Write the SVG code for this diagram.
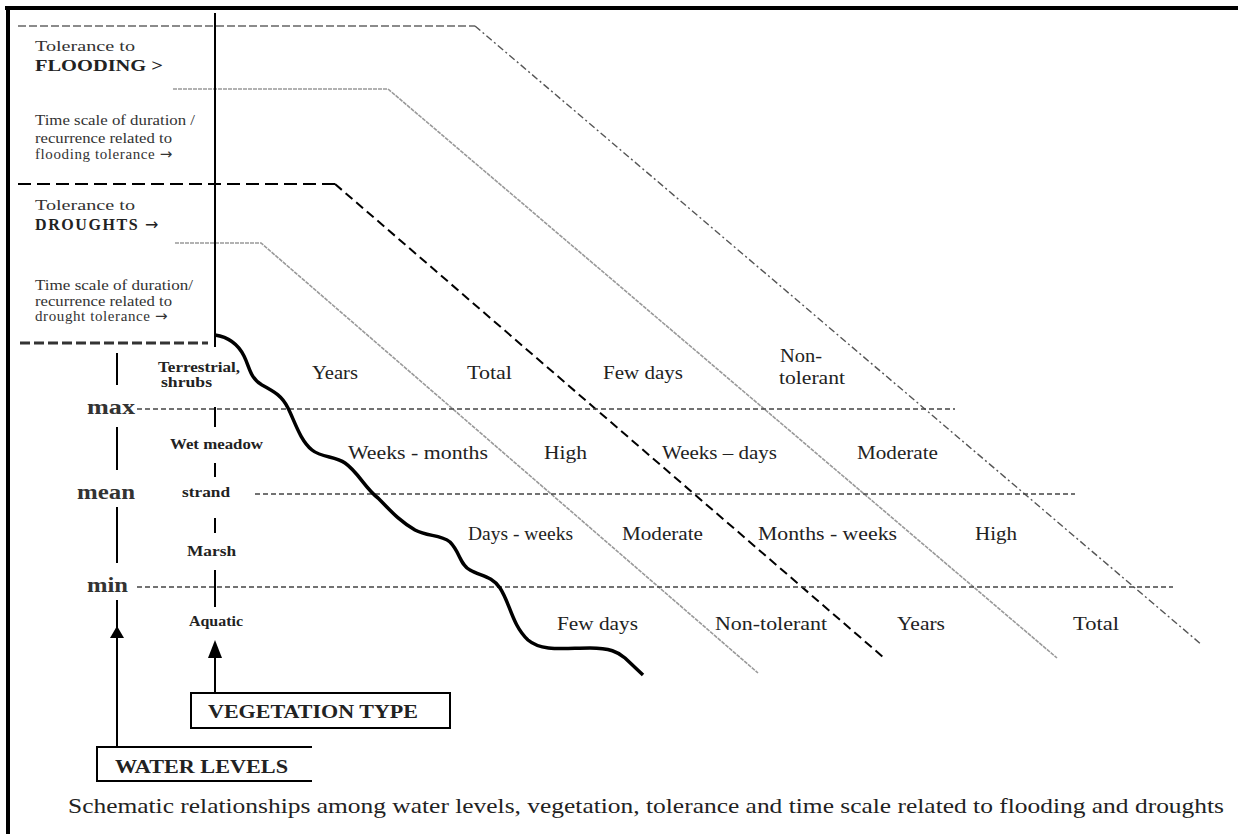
<svg xmlns="http://www.w3.org/2000/svg" width="1238" height="834" viewBox="0 0 1238 834">
<style>
text{font-family:"Liberation Serif","Times New Roman",serif;fill:#222}
.side{font-size:15px;fill:#333}
.sideb{font-size:16px;font-weight:bold;fill:#222}
.arr{font-family:"DejaVu Sans",sans-serif;font-weight:normal}
.cell{font-size:19px}
.veg{font-size:15px;font-weight:bold;fill:#222}
.lvl{font-size:20px;font-weight:bold;fill:#333}
.box{font-size:18px;font-weight:bold}
.cap{font-size:21px}
.solid{stroke:#000;stroke-width:2;fill:none}
.lvline{stroke:#444;stroke-width:1.6;stroke-dasharray:5 3;fill:none}
</style>
<rect width="1238" height="834" fill="#fff"/>
<g id="frame">
<line x1="5" y1="8" x2="1238" y2="8" stroke="#000" stroke-width="4"/>
<line x1="8" y1="6" x2="8" y2="834" stroke="#000" stroke-width="4"/>
</g>
<g id="connectors">
<polyline points="18,26 475,26" fill="none" stroke="#666" stroke-width="1.4" stroke-dasharray="8 3"/>
<line x1="475" y1="26" x2="1202" y2="645" stroke="#555" stroke-width="1.4" stroke-dasharray="7 3 2 3"/>
<polyline points="173,89 388,89 1057,658" fill="none" stroke="#999" stroke-width="1.6" stroke-dasharray="4 1"/>
<polyline points="18,184 335,184" fill="none" stroke="#000" stroke-width="2" stroke-dasharray="13 6"/>
<line x1="335" y1="184" x2="883" y2="657" stroke="#000" stroke-width="2" stroke-dasharray="9 5"/>
<polyline points="175,243 261,243 758,673" fill="none" stroke="#999" stroke-width="1.6" stroke-dasharray="4 1"/>
<line x1="20" y1="343" x2="208" y2="343" stroke="#333" stroke-width="3" stroke-dasharray="10 4"/>
<line x1="215" y1="13" x2="215" y2="347" class="solid"/>
<line x1="137" y1="409" x2="955" y2="409" class="lvline"/>
<line x1="255" y1="494" x2="1075" y2="494" class="lvline"/>
<line x1="137" y1="587" x2="1173" y2="587" class="lvline"/>
<g stroke="#000" stroke-width="2">
<line x1="117" y1="353" x2="117" y2="385"/>
<line x1="117" y1="427" x2="117" y2="470"/>
<line x1="117" y1="507" x2="117" y2="563"/>
<line x1="117" y1="600" x2="117" y2="747"/>
<line x1="215" y1="407" x2="215" y2="427"/>
<line x1="215" y1="463" x2="215" y2="477"/>
<line x1="215" y1="518" x2="215" y2="533"/>
<line x1="215" y1="570" x2="215" y2="607"/>
<line x1="215" y1="656" x2="215" y2="693"/>
</g>
<path d="M110,638 L117,626 L124,638 Z" fill="#000"/>
<path d="M208,658 L215,640 L222,658 Z" fill="#000"/>
<path d="M215,335 C228,337 238,344 244,356 C250,368 250,378 262,385 C275,392 282,396 288,408 C295,422 300,440 312,450 C322,458 335,456 345,463 C358,472 365,488 378,498 C390,510 398,520 415,530 C428,537 440,534 450,542 C460,552 460,565 470,570 C480,576 492,576 500,588 C510,603 512,625 528,640 C542,652 565,648 590,648 C610,648 618,652 625,658 L643,675" fill="none" stroke="#000" stroke-width="3.5" stroke-linejoin="round"/>
</g>
<g id="header-flooding">
<text class="side" x="35" y="51" textLength="100" lengthAdjust="spacingAndGlyphs">Tolerance to</text>
<text class="sideb" x="35" y="71" textLength="128" lengthAdjust="spacingAndGlyphs">FLOODING  &gt;</text>
</g>
<g id="header-flooding-time">
<text class="side" x="35" y="125" textLength="160" lengthAdjust="spacingAndGlyphs">Time scale of duration /</text>
<text class="side" x="35" y="143" textLength="137" lengthAdjust="spacingAndGlyphs">recurrence related to</text>
<text class="side" x="35" y="159" letter-spacing="0.6">flooding tolerance <tspan class="arr">→</tspan></text>
</g>
<g id="header-drought">
<text class="side" x="35" y="210" textLength="100" lengthAdjust="spacingAndGlyphs">Tolerance to</text>
<text class="sideb" x="35" y="230" letter-spacing="1.6">DROUGHTS <tspan class="arr">→</tspan></text>
</g>
<g id="header-drought-time">
<text class="side" x="35" y="290" textLength="158" lengthAdjust="spacingAndGlyphs">Time scale of duration/</text>
<text class="side" x="35" y="306" textLength="137" lengthAdjust="spacingAndGlyphs">recurrence related to</text>
<text class="side" x="35" y="321" letter-spacing="0.6">drought tolerance <tspan class="arr">→</tspan></text>
</g>
<g id="levels">
<text class="lvl" x="87" y="414" textLength="48" lengthAdjust="spacingAndGlyphs">max</text>
<text class="lvl" x="77" y="499" textLength="58" lengthAdjust="spacingAndGlyphs">mean</text>
<text class="lvl" x="87" y="592" textLength="41" lengthAdjust="spacingAndGlyphs">min</text>
</g>
<g id="vegetation">
<text class="veg" x="158" y="372" textLength="82" lengthAdjust="spacingAndGlyphs">Terrestrial,</text>
<text class="veg" x="161" y="387" textLength="51" lengthAdjust="spacingAndGlyphs">shrubs</text>
<text class="veg" x="170" y="449" textLength="93" lengthAdjust="spacingAndGlyphs">Wet meadow</text>
<text class="veg" x="182" y="497" textLength="48" lengthAdjust="spacingAndGlyphs">strand</text>
<text class="veg" x="187" y="556" textLength="49" lengthAdjust="spacingAndGlyphs">Marsh</text>
<text class="veg" x="189" y="626" textLength="54" lengthAdjust="spacingAndGlyphs">Aquatic</text>
</g>
<g id="row-terrestrial">
<text class="cell" x="312" y="379" textLength="46" lengthAdjust="spacingAndGlyphs">Years</text>
<text class="cell" x="467" y="379" textLength="45" lengthAdjust="spacingAndGlyphs">Total</text>
<text class="cell" x="603" y="379" textLength="80" lengthAdjust="spacingAndGlyphs">Few days</text>
<text class="cell" x="780" y="362" textLength="42" lengthAdjust="spacingAndGlyphs">Non-</text>
<text class="cell" x="779" y="384" textLength="66" lengthAdjust="spacingAndGlyphs">tolerant</text>
</g>
<g id="row-wetmeadow">
<text class="cell" x="348" y="459" textLength="140" lengthAdjust="spacingAndGlyphs">Weeks - months</text>
<text class="cell" x="544" y="459" textLength="43" lengthAdjust="spacingAndGlyphs">High</text>
<text class="cell" x="662" y="459" textLength="115" lengthAdjust="spacingAndGlyphs">Weeks – days</text>
<text class="cell" x="857" y="459" textLength="81" lengthAdjust="spacingAndGlyphs">Moderate</text>
</g>
<g id="row-marsh">
<text class="cell" x="468" y="540" textLength="105" lengthAdjust="spacingAndGlyphs">Days - weeks</text>
<text class="cell" x="622" y="540" textLength="81" lengthAdjust="spacingAndGlyphs">Moderate</text>
<text class="cell" x="758" y="540" textLength="139" lengthAdjust="spacingAndGlyphs">Months - weeks</text>
<text class="cell" x="975" y="540" textLength="42" lengthAdjust="spacingAndGlyphs">High</text>
</g>
<g id="row-aquatic">
<text class="cell" x="557" y="630" textLength="81" lengthAdjust="spacingAndGlyphs">Few days</text>
<text class="cell" x="715" y="630" textLength="112" lengthAdjust="spacingAndGlyphs">Non-tolerant</text>
<text class="cell" x="897" y="630" textLength="48" lengthAdjust="spacingAndGlyphs">Years</text>
<text class="cell" x="1073" y="630" textLength="46" lengthAdjust="spacingAndGlyphs">Total</text>
</g>
<g id="vegetation-type-box">
<rect x="191" y="693" width="259" height="35" fill="#fff" stroke="#000" stroke-width="2"/>
<text class="box" x="208" y="718" textLength="210" lengthAdjust="spacingAndGlyphs">VEGETATION TYPE</text>
</g>
<g id="water-levels-box">
<polyline points="312,747 97,747 97,781 312,781" fill="none" stroke="#000" stroke-width="2"/>
<text class="box" x="115" y="773" textLength="173" lengthAdjust="spacingAndGlyphs">WATER LEVELS</text>
</g>
<g id="caption">
<text class="cap" x="68" y="813" textLength="1156" lengthAdjust="spacingAndGlyphs">Schematic relationships among water levels, vegetation, tolerance and time scale related to flooding and droughts</text>
</g>
</svg>
